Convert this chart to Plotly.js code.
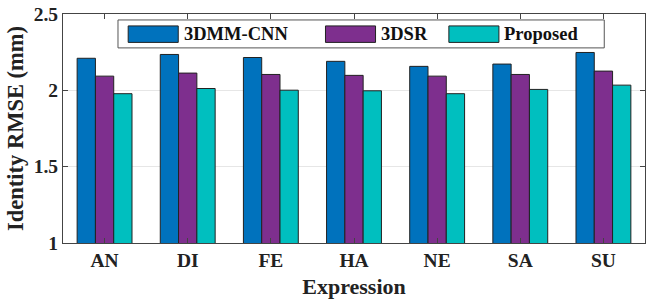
<!DOCTYPE html>
<html><head><meta charset="utf-8">
<script src="https://cdn.plot.ly/plotly-3.0.1.min.js"></script>
<style>html,body{margin:0;padding:0;background:#fff;}#chart{width:656px;height:305px;}</style>
</head><body><div id="chart"></div>
<script>
const categories = ["AN","DI","FE","HA","NE","SA","SU"];
const seriesNames = ["3DMM-CNN","3DSR","Proposed"];
const cnnValues = [2.21,2.235,2.215,2.19,2.157,2.172,2.248];
const dsrValues = [2.093,2.113,2.104,2.098,2.093,2.104,2.126];
const proposedValues = [1.978,2.012,2.001,1.997,1.978,2.006,2.034];
const colors = ["#0072BD","#7E2F8E","#00BFBF"];
const yTicks = [1,1.5,2,2.5];

const allValues = [cnnValues, dsrValues, proposedValues];
const font = "Liberation Serif";
const traces = allValues.map((v,i)=>({
  type:"bar", x:categories, y:v, name:seriesNames[i],
  marker:{color:colors[i], line:{color:"#222", width:1}},
  showlegend:false
}));

// custom legend in paper coordinates
const shapes = [{type:"rect", xref:"paper", yref:"paper", x0:0.0945, x1:0.93, y0:0.852, y1:0.974,
  line:{color:"#555", width:1}, fillcolor:"#fff", layer:"above"}];
const annotations = [];
const legX = [0.112, 0.451, 0.663];
const swW = 0.086;
seriesNames.forEach((n,i)=>{
  shapes.push({type:"rect", xref:"paper", yref:"paper", x0:legX[i], x1:legX[i]+swW, y0:0.876, y1:0.948,
    fillcolor:colors[i], line:{color:"#222", width:1}, layer:"above"});
  annotations.push({xref:"paper", yref:"paper", x:legX[i]+swW+0.006, y:0.913, xanchor:"left", yanchor:"middle",
    text:"<b>"+n+"</b>", showarrow:false, font:{family:font, size:18.5, color:"#111"}});
});

const layout = {
  width:656, height:305,
  margin:{l:63, r:11, t:14, b:62},
  paper_bgcolor:"#fff", plot_bgcolor:"#fff",
  barmode:"group", bargap:0.34, bargroupgap:0,
  font:{family:font, color:"#222"},
  xaxis:{
    tickvals:categories, ticktext:categories.map(c=>"<b>"+c+"</b>"),
    tickfont:{family:font, size:19.5, color:"#222"},
    ticks:"inside", ticklen:5, tickcolor:"#444", mirror:"ticks",
    showline:true, linecolor:"#444", linewidth:1,
    title:{text:"<b>Expression</b>", font:{family:font, size:22, color:"#222"}, standoff:8}
  },
  yaxis:{
    range:[1,2.5], tickvals:yTicks, ticktext:yTicks.map(t=>"<b>"+t+"</b>"),
    tickfont:{family:font, size:19.5, color:"#222"},
    ticks:"inside", ticklen:5, tickcolor:"#444", mirror:"ticks",
    showline:true, linecolor:"#444", linewidth:1,
    showgrid:true, gridcolor:"#e6e6e6", zeroline:false,
    title:{text:"<b>Identity RMSE (mm)</b>", font:{family:font, size:22.5, color:"#222"}, standoff:3}
  },
  shapes:shapes, annotations:annotations,
  showlegend:false
};
Plotly.newPlot("chart", traces, layout, {staticPlot:true, displayModeBar:false});
</script></body></html>
